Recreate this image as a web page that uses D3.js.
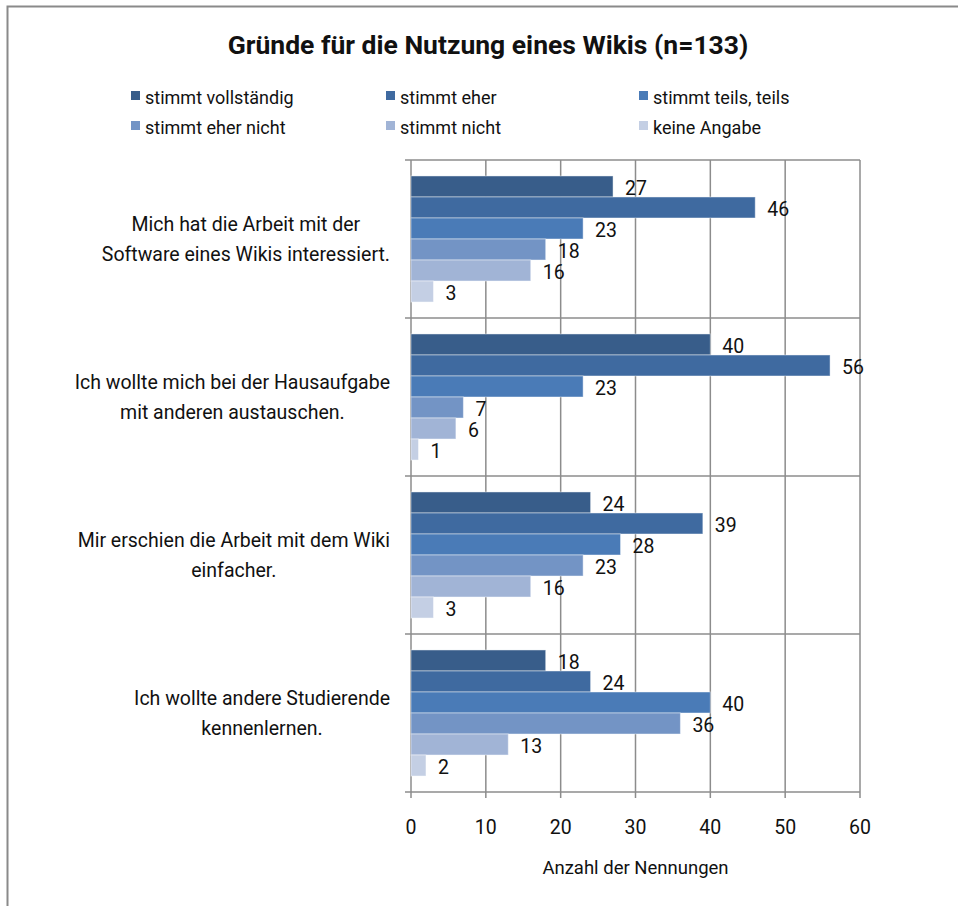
<!DOCTYPE html>
<html>
<head>
<meta charset="utf-8">
<script src="https://cdn.jsdelivr.net/npm/d3@7"></script>
<style>
  body { margin: 0; background: #fff; }
  text { font-family: Roboto, "Open Sans", sans-serif; fill: #111; }
</style>
</head>
<body>
<div id="chart"></div>
<script>
// Data
const CATEGORIES = [
  ["Mich hat die Arbeit mit der", "Software eines Wikis interessiert."],
  ["Ich wollte mich bei der Hausaufgabe", "mit anderen austauschen."],
  ["Mir erschien die Arbeit mit dem Wiki", "einfacher."],
  ["Ich wollte andere Studierende", "kennenlernen."]
];
const SERIES = ["stimmt vollständig", "stimmt eher", "stimmt teils, teils",
                "stimmt eher nicht", "stimmt nicht", "keine Angabe"];
const VALUES_Q1 = [27, 46, 23, 18, 16, 3];
const VALUES_Q2 = [40, 56, 23, 7, 6, 1];
const VALUES_Q3 = [24, 39, 28, 23, 16, 3];
const VALUES_Q4 = [18, 24, 40, 36, 13, 2];
const X_TICKS = [0, 10, 20, 30, 40, 50, 60];

const TITLE = "Gründe für die Nutzung eines Wikis (n=133)";
const X_TITLE = "Anzahl der Nennungen";

// Layout
const WIDTH = 958, HEIGHT = 906;
const PLOT = {left: 411, right: 860, top: 160, bottom: 792};
const COLORS = ["#385d8a", "#3f6aa0", "#4a7bb7", "#7394c5", "#a1b4d6", "#c4cfe4"];
const GRID = "#8c8c8c";
const FS = 19.5;

const values = [VALUES_Q1, VALUES_Q2, VALUES_Q3, VALUES_Q4];
const rows = CATEGORIES.map((c, i) => ({key: i, lines: c, values: values[i]}));

const svg = d3.select("#chart").append("svg")
    .attr("width", WIDTH)
    .attr("height", HEIGHT);

// outer frame (left + top edge only visible)
svg.append("path")
    .attr("d", `M7.5,${HEIGHT} L7.5,6.5 L${WIDTH},6.5`)
    .attr("fill", "none")
    .attr("stroke", "#8a8a8a")
    .attr("stroke-width", 2);

const x = d3.scaleLinear().domain([0, 60]).range([PLOT.left, PLOT.right]);
const y = d3.scaleBand().domain(rows.map(d => d.key)).range([PLOT.top, PLOT.bottom]);
const yInner = d3.scaleBand().domain(d3.range(SERIES.length))
    .range([0, y.bandwidth()])
    .paddingOuter(0.76);
const color = d3.scaleOrdinal().domain(d3.range(SERIES.length)).range(COLORS);

// vertical gridlines + bottom ticks
svg.append("g")
  .selectAll("line")
  .data(X_TICKS)
  .join("line")
    .attr("x1", d => x(d)).attr("x2", d => x(d))
    .attr("y1", PLOT.top).attr("y2", PLOT.bottom + 6)
    .attr("stroke", GRID).attr("stroke-width", 1.5);

// horizontal category separators (category axis ticks)
const sepY = rows.map(d => y(d.key)).concat([PLOT.bottom]);
svg.append("g")
  .selectAll("line")
  .data(sepY)
  .join("line")
    .attr("x1", PLOT.left - 6).attr("x2", PLOT.right)
    .attr("y1", d => d).attr("y2", d => d)
    .attr("stroke", GRID).attr("stroke-width", 1.5);

// bars
const groups = svg.append("g")
  .selectAll("g")
  .data(rows)
  .join("g")
    .attr("transform", d => `translate(0,${y(d.key)})`);

groups.selectAll("rect")
  .data(d => d.values.map((v, i) => ({v, i})))
  .join("rect")
    .attr("x", x(0))
    .attr("y", d => yInner(d.i))
    .attr("width", d => x(d.v) - x(0))
    .attr("height", yInner.bandwidth())
    .attr("fill", d => color(d.i))
    .attr("stroke", "#ffffff")
    .attr("stroke-opacity", 0.45)
    .attr("stroke-width", 1);

groups.selectAll("text.val")
  .data(d => d.values.map((v, i) => ({v, i})))
  .join("text")
    .attr("class", "val")
    .attr("x", d => x(d.v) + 12)
    .attr("y", d => yInner(d.i) + yInner.bandwidth() / 2 + 2)
    .attr("dominant-baseline", "central")
    .attr("font-size", FS)
    .text(d => d.v);

// y axis category labels: block right aligned, lines centred
const labelRight = 390;
rows.forEach(r => {
  const g = svg.append("g");
  const cy = y(r.key) + y.bandwidth() / 2;
  const t = g.selectAll("text")
    .data(r.lines)
    .join("text")
      .attr("font-size", FS)
      .attr("y", (d, i) => cy + (i - (r.lines.length - 1) / 2) * 30)
      .attr("dominant-baseline", "central")
      .attr("text-anchor", "middle")
      .text(d => d);
  const maxW = d3.max(t.nodes(), n => n.getComputedTextLength());
  t.attr("x", labelRight - maxW / 2);
});

// x tick labels
svg.append("g")
  .selectAll("text")
  .data(X_TICKS)
  .join("text")
    .attr("x", d => x(d))
    .attr("y", 827)
    .attr("text-anchor", "middle")
    .attr("dominant-baseline", "central")
    .attr("font-size", FS)
    .text(d => d);

svg.append("text")
    .attr("x", (PLOT.left + PLOT.right) / 2)
    .attr("y", 868)
    .attr("text-anchor", "middle")
    .attr("dominant-baseline", "central")
    .attr("font-size", 18.5)
    .text(X_TITLE);

// title
svg.append("text")
    .attr("x", 488)
    .attr("y", 44)
    .attr("text-anchor", "middle")
    .attr("dominant-baseline", "central")
    .attr("font-size", 26.5)
    .attr("font-weight", "bold")
    .text(TITLE);

// legend: 3 columns x 2 rows
const LEG_COLS = [131, 386, 639];
const LEG_ROWS = [97, 127];
const legend = svg.append("g")
  .selectAll("g")
  .data(SERIES)
  .join("g")
    .attr("transform", (d, i) => `translate(${LEG_COLS[i % 3]},${LEG_ROWS[Math.floor(i / 3)]})`);

legend.append("rect")
    .attr("x", 0).attr("y", -6)
    .attr("width", 9).attr("height", 9)
    .attr("fill", (d, i) => color(i));

legend.append("text")
    .attr("x", 14)
    .attr("y", 0)
    .attr("dominant-baseline", "central")
    .attr("font-size", 18)
    .text(d => d);
</script>
</body>
</html>
